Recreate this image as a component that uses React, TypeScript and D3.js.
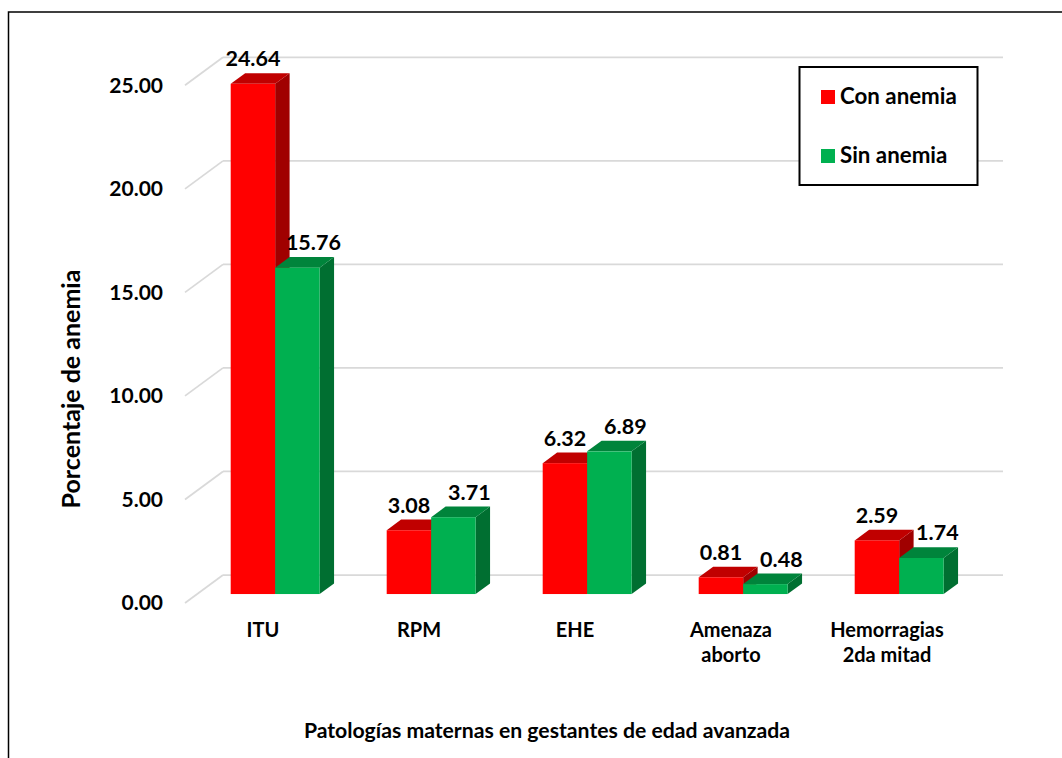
import React from "react";
import * as d3 from "d3";

const categories = ["ITU", "RPM", "EHE", "Amenaza\naborto", "Hemorragias\n2da mitad"];
const seriesNames = ["Con anemia", "Sin anemia"];
const conAnemia = [24.64, 3.08, 6.32, 0.81, 2.59];
const sinAnemia = [15.76, 3.71, 6.89, 0.48, 1.74];
const yTicks = [0, 5, 10, 15, 20, 25];
const xTitle = "Patologías maternas en gestantes de edad avanzada";
const yTitle = "Porcentaje de anemia";

const colors = {
  "Con anemia": { front: "#FF0000", top: "#C00000", side: "#A00000" },
  "Sin anemia": { front: "#00B050", top: "#00843B", side: "#006F31" },
} as Record<string, { front: string; top: string; side: string }>;

const FONT = "Lato, 'Open Sans', sans-serif";

export default function App() {
  const W = 1062;
  const H = 758;
  const backLeft = 223;
  const backRight = 1003;
  const depth = { dx: -38, dy: 28 };
  const tFront = 0.68;
  const tBack = 0.3;
  const fo = { dx: depth.dx * tFront, dy: depth.dy * tFront };
  const bo = { dx: depth.dx * tBack, dy: depth.dy * tBack };
  const sd = { dx: bo.dx - fo.dx, dy: bo.dy - fo.dy };

  const y = d3.scaleLinear().domain([0, 25]).range([575, 57.3]);
  const x0 = d3
    .scaleBand<string>()
    .domain(categories)
    .range([backLeft, backRight])
    .paddingInner(0.43)
    .paddingOuter(0.215);
  const x1 = d3.scaleBand<string>().domain(seriesNames).range([0, x0.bandwidth()]);

  const values: Record<string, number[]> = {
    "Con anemia": conAnemia,
    "Sin anemia": sinAnemia,
  };

  const bars: React.ReactNode[] = [];
  const labels: React.ReactNode[] = [];
  categories.forEach((c, i) => {
    seriesNames.forEach((s, si) => {
      const v = values[s][i];
      const w = x1.bandwidth();
      const fx = (x0(c) as number) + (x1(s) as number) + fo.dx;
      const fy = y(v) + fo.dy;
      const fb = y(0) + fo.dy;
      const col = colors[s];
      const pts = (arr: number[][]) => arr.map((p) => p.join(",")).join(" ");
      bars.push(
        <g key={`${c}-${s}`}>
          <polygon
            points={pts([
              [fx + w, fy],
              [fx + w + sd.dx, fy + sd.dy],
              [fx + w + sd.dx, fb + sd.dy],
              [fx + w, fb],
            ])}
            fill={col.side}
          />
          <polygon
            points={pts([
              [fx, fy],
              [fx + w, fy],
              [fx + w + sd.dx, fy + sd.dy],
              [fx + sd.dx, fy + sd.dy],
            ])}
            fill={col.top}
          />
          <rect x={fx} y={fy} width={w} height={fb - fy} fill={col.front} />
        </g>
      );
      labels.push(
        <text
          key={`l-${c}-${s}`}
          x={fx + w / 2 + (si === 1 ? 16 : 0)}
          y={y(v) + 1.5}
          textAnchor="middle"
          fontSize={21.5}
          fontWeight="bold"
          fontFamily={FONT}
          fill="#000"
        >
          {v.toFixed(2)}
        </text>
      );
    });
  });

  return (
    <svg
      width={W}
      height={H}
      style={{ position: "absolute", left: 0, top: 0, background: "#fff" }}
    >
      <rect x={0} y={0} width={W} height={H} fill="#fff" />
      <rect x={8.5} y={12} width={1100} height={800} fill="none" stroke="#000" strokeWidth={1.5} />
      {yTicks.map((t) => (
        <g key={`g${t}`}>
          <line x1={backLeft} x2={backRight} y1={y(t)} y2={y(t)} stroke="#D9D9D9" strokeWidth={1.75} />
          <line
            x1={backLeft + depth.dx}
            y1={y(t) + depth.dy}
            x2={backLeft}
            y2={y(t)}
            stroke="#D9D9D9"
            strokeWidth={1.75}
          />
          <text
            x={163}
            y={y(t) + depth.dy}
            dy="0.35em"
            textAnchor="end"
            fontSize={21}
            fontWeight="bold"
            fontFamily={FONT}
            fill="#000"
          >
            {t.toFixed(2)}
          </text>
        </g>
      ))}
      {bars}
      {labels}
      {categories.map((c) => {
        const cx = (x0(c) as number) + x0.bandwidth() / 2 + depth.dx;
        const lines = c.split("\n");
        return (
          <text
            key={`c-${c}`}
            x={cx}
            y={637}
            textAnchor="middle"
            fontSize={20}
            fontWeight="bold"
            fontFamily={FONT}
            fill="#000"
          >
            {lines.map((ln, li) => (
              <tspan key={li} x={cx} dy={li === 0 ? 0 : 25}>
                {ln}
              </tspan>
            ))}
          </text>
        );
      })}
      <text
        x={547}
        y={738}
        textAnchor="middle"
        fontSize={21.2}
        fontWeight="bold"
        fontFamily={FONT}
        fill="#000"
      >
        {xTitle}
      </text>
      <text
        transform={`translate(80,389) rotate(-90)`}
        textAnchor="middle"
        fontSize={25}
        fontWeight="bold"
        fontFamily={FONT}
        fill="#000"
      >
        {yTitle}
      </text>
      <rect x={799.5} y={67} width={178} height={118} fill="#fff" stroke="#000" strokeWidth={2} />
      {seriesNames.map((s, i) => (
        <g key={`lg-${s}`}>
          <rect x={821} y={90 + i * 59} width={14} height={14} fill={colors[s].front} />
          <text
            x={840}
            y={104 + i * 59}
            fontSize={22.3}
            fontWeight="bold"
            fontFamily={FONT}
            fill="#000"
          >
            {s}
          </text>
        </g>
      ))}
    </svg>
  );
}
